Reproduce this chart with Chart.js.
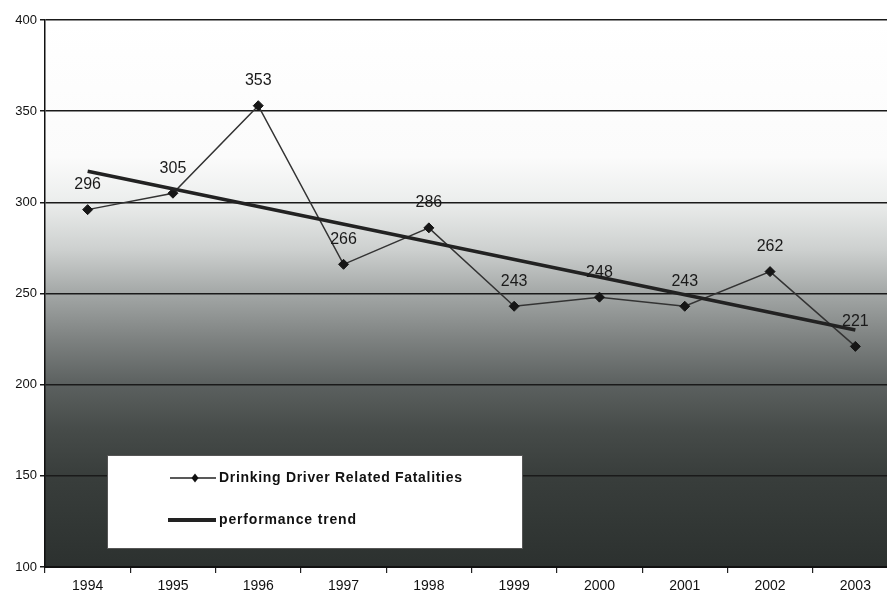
<!DOCTYPE html>
<html>
<head>
<meta charset="utf-8">
<script src="https://cdn.jsdelivr.net/npm/chart.js@4.4.1/dist/chart.umd.min.js"></script>
<style>
  html, body { margin: 0; padding: 0; background: #ffffff; overflow: hidden; }
  #wrap { width: 887px; height: 595px; overflow: hidden; }
</style>
</head>
<body>
<div id="wrap"><canvas id="c" width="904" height="595"></canvas></div>
<script>
// Years on the horizontal axis
const years = ['1994', '1995', '1996', '1997', '1998', '1999', '2000', '2001', '2002', '2003'];
// Drinking driver related fatalities per year
const fatalities = [296, 305, 353, 266, 286, 243, 248, 243, 262, 221];
// Straight performance trend: start and end values, joined across the gap
const trendLine = [317, null, null, null, null, null, null, null, null, 230];
// Value axis ticks
const yTicks = [100, 150, 200, 250, 300, 350, 400];

const FONT = "'Liberation Sans', Arial, Helvetica, sans-serif";

// Grey plot-area fill, light at the top and dark towards the bottom
const plotFill = {
  id: 'plotFill',
  beforeDraw(chart) {
    const { ctx, chartArea: a } = chart;
    ctx.save();
    ctx.fillStyle = '#ffffff';
    ctx.fillRect(0, 0, chart.width, chart.height);
    const g = ctx.createLinearGradient(0, a.top, 0, a.bottom);
    g.addColorStop(0.00, '#ffffff');
    g.addColorStop(0.25, '#fbfbfb');
    g.addColorStop(0.33, '#eceeed');
    g.addColorStop(0.42, '#cdd0cf');
    g.addColorStop(0.50, '#a3a7a6');
    g.addColorStop(0.58, '#7f8382');
    g.addColorStop(0.665, '#5c6160');
    g.addColorStop(0.75, '#464b49');
    g.addColorStop(0.83, '#393e3c');
    g.addColorStop(1.00, '#2c312f');
    ctx.fillStyle = g;
    ctx.fillRect(a.left, a.top, a.right - a.left, a.bottom - a.top);
    ctx.restore();
  }
};

// Numbers printed above each yearly point
const pointValues = {
  id: 'pointValues',
  afterDatasetsDraw(chart) {
    const { ctx } = chart;
    const meta = chart.getDatasetMeta(0);
    ctx.save();
    ctx.font = '16px ' + FONT;
    ctx.fillStyle = '#1a1a1a';
    ctx.textAlign = 'center';
    ctx.textBaseline = 'middle';
    meta.data.forEach((pt, i) => {
      ctx.fillText(String(fatalities[i]), pt.x, pt.y - 25);
    });
    ctx.restore();
  }
};

// Writes text spread out to a given width
function spreadText(ctx, text, x, y, width) {
  ctx.letterSpacing = '0px';
  const natural = ctx.measureText(text).width;
  const gap = (width - natural) / (text.length - 1);
  ctx.letterSpacing = gap.toFixed(2) + 'px';
  ctx.fillText(text, x, y);
  ctx.letterSpacing = '0px';
}

// Boxed legend sitting in the lower-left part of the plot
const boxLegend = {
  id: 'boxLegend',
  afterDatasetsDraw(chart) {
    const { ctx } = chart;
    const ds = chart.data.datasets;
    const x = 107, y = 455, w = 416, h = 94;
    ctx.save();
    ctx.fillStyle = '#ffffff';
    ctx.fillRect(x, y, w, h);
    ctx.strokeStyle = '#555555';
    ctx.lineWidth = 1;
    ctx.strokeRect(x + 0.5, y + 0.5, w - 1, h - 1);

    // first entry: thin line with diamond
    const y1 = 478;
    ctx.strokeStyle = '#222222';
    ctx.lineWidth = 1.5;
    ctx.beginPath();
    ctx.moveTo(170, y1);
    ctx.lineTo(216, y1);
    ctx.stroke();
    ctx.fillStyle = '#111111';
    ctx.beginPath();
    ctx.moveTo(195, y1 - 4.5);
    ctx.lineTo(198.5, y1);
    ctx.lineTo(195, y1 + 4.5);
    ctx.lineTo(191.5, y1);
    ctx.closePath();
    ctx.fill();

    // second entry: thick line
    const y2 = 520;
    ctx.lineWidth = 4;
    ctx.beginPath();
    ctx.moveTo(168, y2);
    ctx.lineTo(216, y2);
    ctx.stroke();

    ctx.fillStyle = '#111111';
    ctx.textBaseline = 'middle';
    ctx.textAlign = 'left';
    ctx.font = 'bold 14px ' + FONT;
    spreadText(ctx, ds[0].label, 219, y1, 243);
    spreadText(ctx, ds[1].label, 219, y2, 137);
    ctx.restore();
  }
};

new Chart(document.getElementById('c'), {
  type: 'line',
  data: {
    labels: years,
    datasets: [
      {
        label: 'Drinking Driver Related Fatalities',
        data: fatalities,
        borderColor: '#333333',
        borderWidth: 1.5,
        pointStyle: 'rectRot',
        pointRadius: 5,
        pointBackgroundColor: '#161616',
        pointBorderColor: '#161616',
        pointBorderWidth: 1,
        tension: 0,
        order: 2
      },
      {
        label: 'performance trend',
        data: trendLine,
        spanGaps: true,
        borderColor: '#222222',
        borderWidth: 3.5,
        pointRadius: 0,
        tension: 0,
        order: 1
      }
    ]
  },
  options: {
    responsive: false,
    animation: false,
    layout: { padding: { top: 20, right: 0, left: 0, bottom: 0 } },
    plugins: {
      legend: { display: false },
      tooltip: { enabled: false }
    },
    scales: {
      x: {
        type: 'category',
        offset: true,
        grid: {
          offset: true,
          drawOnChartArea: false,
          drawTicks: true,
          tickLength: 6,
          color: '#222222',
          lineWidth: 1.2
        },
        border: { display: true, color: '#111111', width: 2 },
        ticks: {
          color: '#111111',
          font: { family: FONT, size: 14 },
          padding: 5,
          maxRotation: 0
        },
        afterFit(scale) { scale.height = 28; }
      },
      y: {
        min: 100,
        max: 400,
        afterBuildTicks(scale) {
          scale.ticks = yTicks.map(v => ({ value: v }));
        },
        grid: {
          drawOnChartArea: true,
          drawTicks: true,
          tickLength: 5,
          color: '#1a1a1a',
          lineWidth: 1.5
        },
        border: { display: true, color: '#111111', width: 1.5 },
        ticks: {
          color: '#111111',
          font: { family: FONT, size: 13 },
          padding: 3
        },
        afterFit(scale) { scale.width = 45; }
      }
    }
  },
  plugins: [plotFill, pointValues, boxLegend]
});
</script>
</body>
</html>
